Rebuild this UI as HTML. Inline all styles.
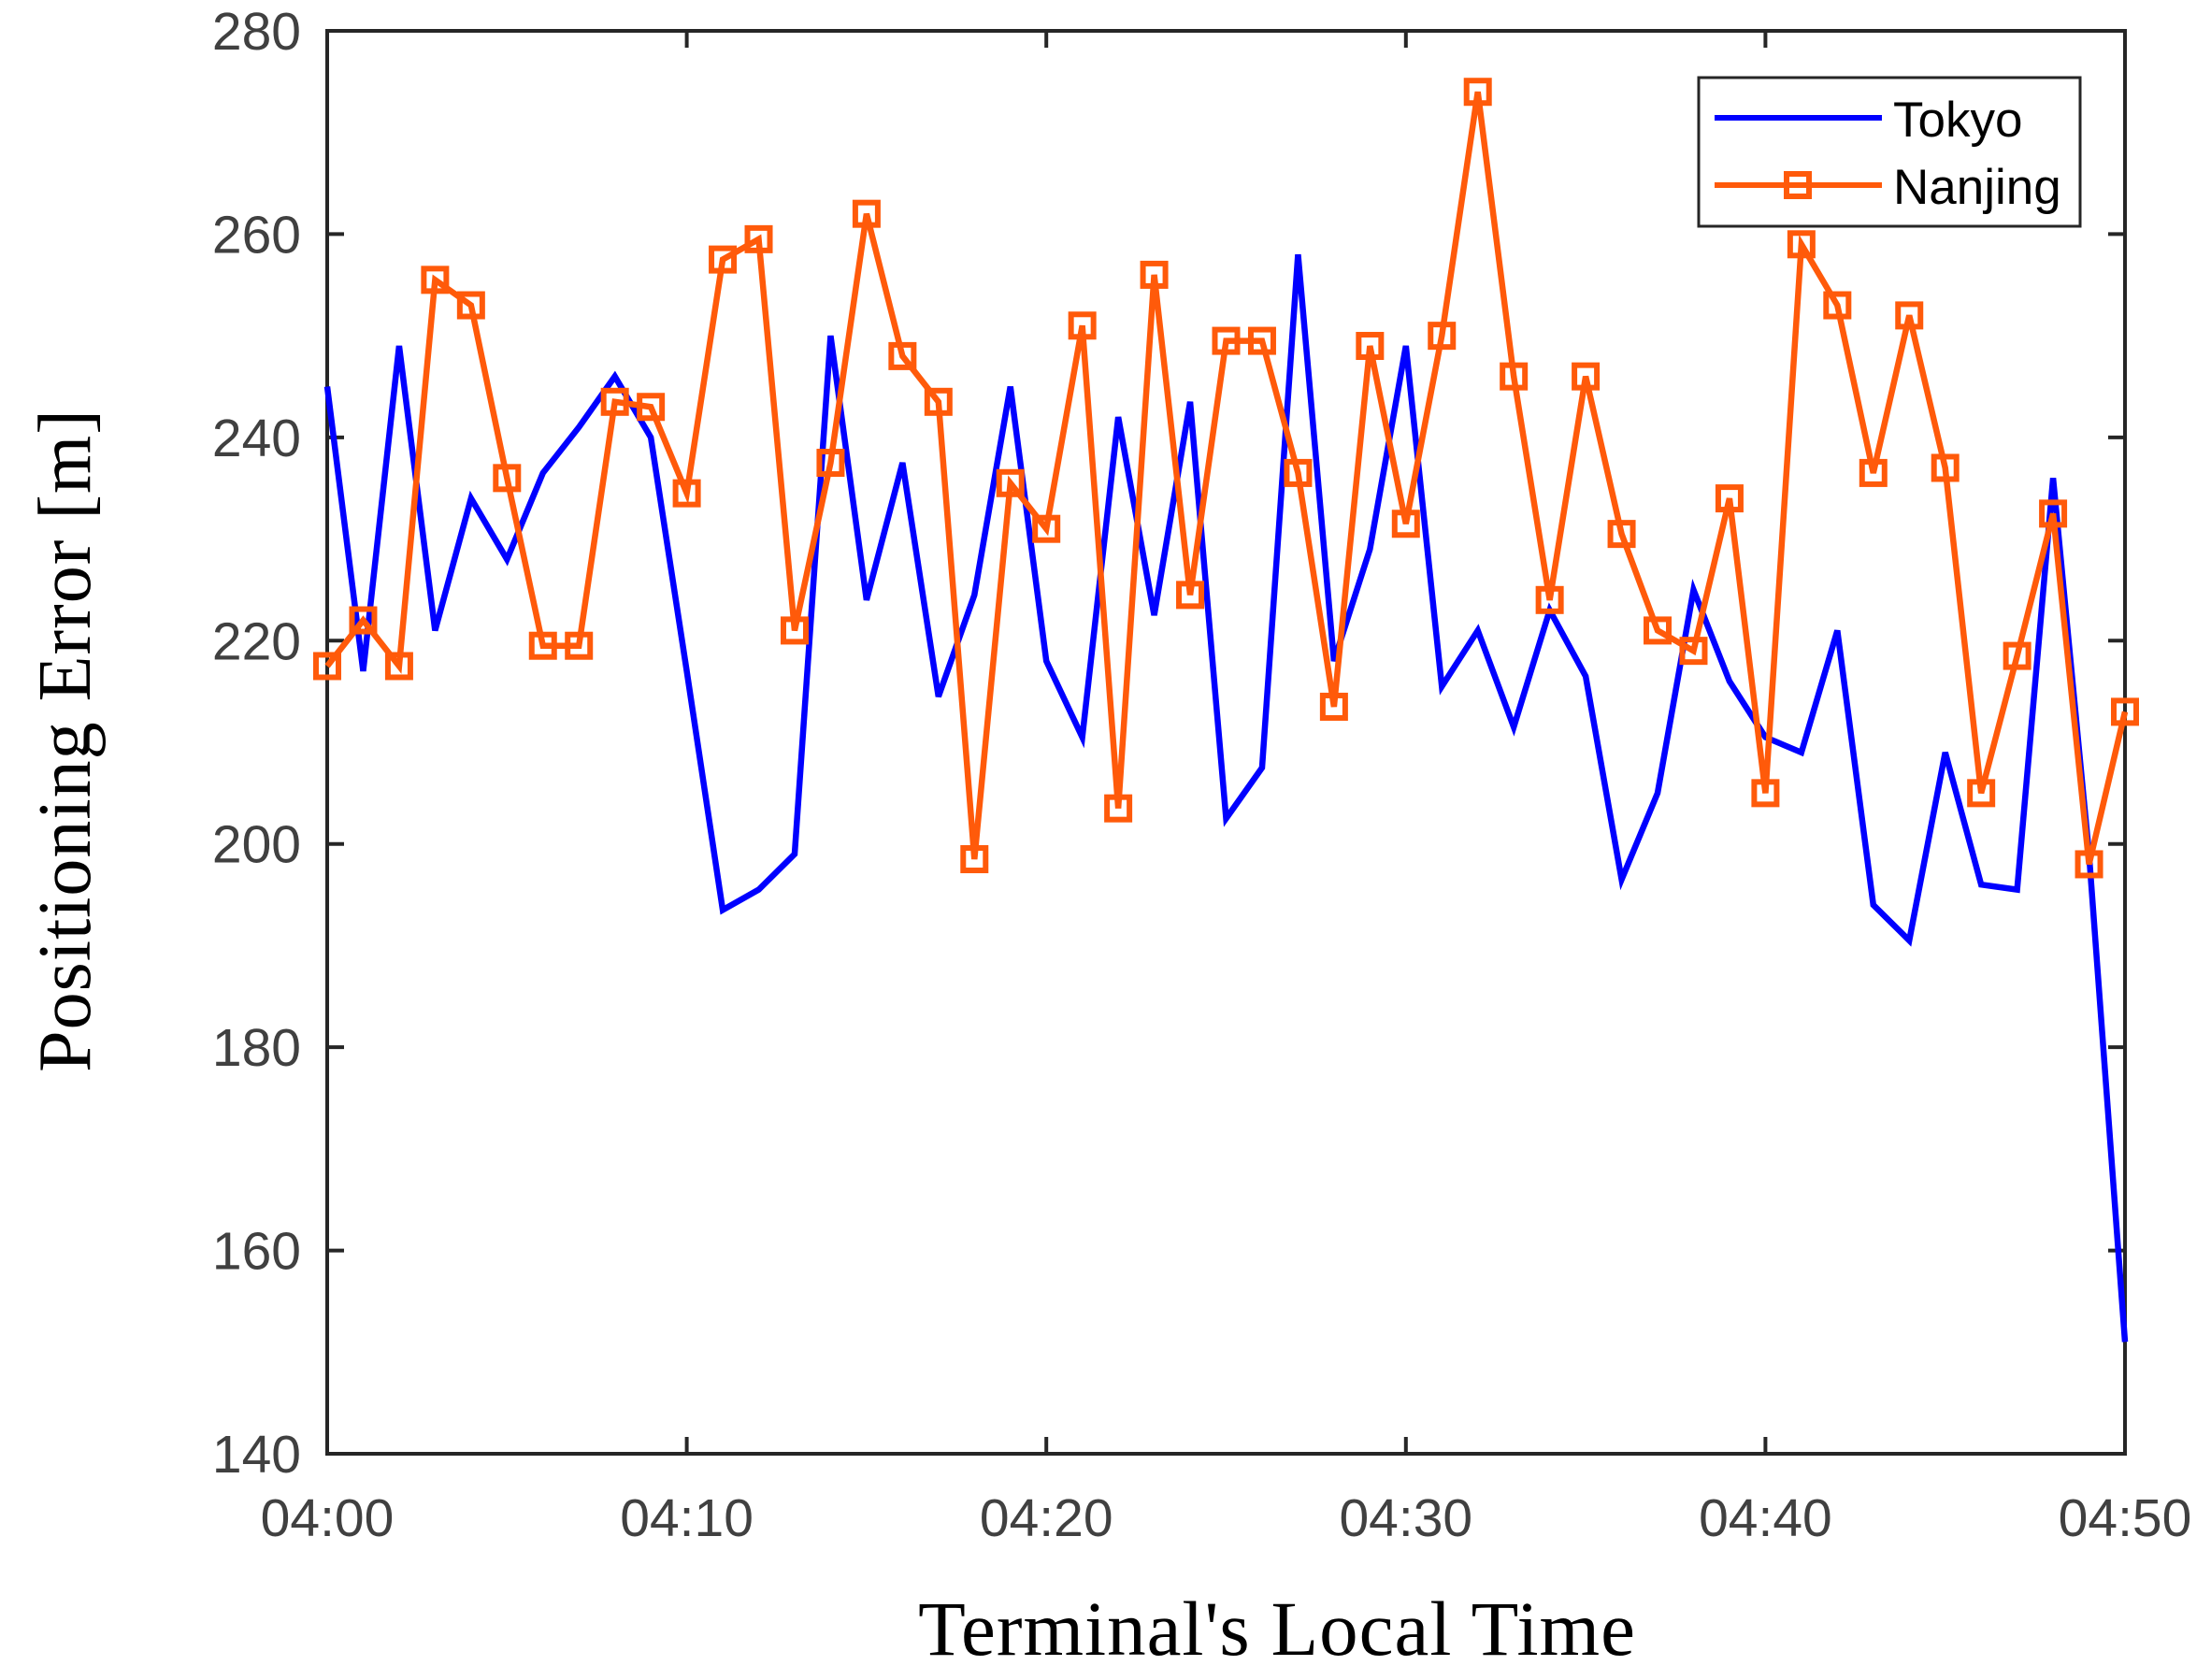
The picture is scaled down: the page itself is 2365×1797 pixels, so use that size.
<!DOCTYPE html>
<html><head><meta charset="utf-8"><style>
html,body{margin:0;padding:0;background:#fff;}
svg{display:block;}
</style></head><body>
<svg id="chart" width="2365" height="1797" viewBox="0 0 2365 1797" xmlns="http://www.w3.org/2000/svg">
<g id="grid"></g>
<g id="series"></g>
<text x="1366" y="1770" text-anchor="middle" font-family="Liberation Serif, serif" font-size="83" letter-spacing="1" fill="#000">Terminal's Local Time</text>
<text transform="translate(96,792) rotate(-90)" text-anchor="middle" font-family="Liberation Serif, serif" font-size="80" letter-spacing="1" fill="#000">Positioning Error [m]</text>
<g>
<rect x="1817" y="83" width="408" height="159" fill="#fff" stroke="#262626" stroke-width="3"/>
<line x1="1834" y1="126" x2="2013" y2="126" stroke="#0000ff" stroke-width="6"/>
<text x="2025" y="146" font-family="Liberation Sans, sans-serif" font-size="53" fill="#000">Tokyo</text>
<line x1="1834" y1="198" x2="2013" y2="198" stroke="#ff5a0a" stroke-width="6"/>
<rect x="1911" y="186" width="24" height="24" fill="none" stroke="#ff5a0a" stroke-width="6"/>
<text x="2025" y="218" font-family="Liberation Sans, sans-serif" font-size="53" fill="#000">Nanjing</text>
</g>
</svg>
<script>
const minutes = [];
for (let i = 0; i <= 50; i++) minutes.push(i);
const tokyoValues = [245,217,249,221,234,228,236.5,241,246,240,217,193.5,195.5,199,250,224,237.5,214.5,224.5,245,218,210.5,242,222.5,243.5,202.5,207.5,258,218,229,249,215.5,221,211.5,223,216.5,196.5,205,225,216,210.5,209,221,194,190.5,209,196,195.5,236,199,151];
const nanjingValues = [217.5,222,217.5,255.5,253,236,219.5,219.5,243.5,243,234.5,257.5,259.5,221,237.5,262,248,243.5,198.5,235.5,231,251,203.5,256,224.5,249.5,249.5,236.5,213.5,249,231.5,250,274,246,224,246,230.5,221,219,234,205,259,253,236.5,252,237,205,218.5,232.5,198,213];
const yTicks = [140,160,180,200,220,240,260,280];
const xTickMinutes = [0,10,20,30,40,50];
const xTickLabels = ["04:00","04:10","04:20","04:30","04:40","04:50"];

const L=350,R=2273,T=33,B=1555;
const xS = m => L + (m-0)/(50-0)*(R-L);
const yS = v => B - (v-140)/(280-140)*(B-T);
const NS="http://www.w3.org/2000/svg";
const grid=document.getElementById('grid'), ser=document.getElementById('series');
function mk(tag,attrs,parent){const e=document.createElementNS(NS,tag);for(const k in attrs)e.setAttribute(k,attrs[k]);parent.appendChild(e);return e;}

const frame=mk('rect',{x:L,y:T,width:R-L,height:B-T,fill:'none',stroke:'#262626','stroke-width':4},grid);



yTicks.forEach(v=>{
  const y=yS(v);
  const t1=mk('line',{x1:L,y1:y,x2:L+18,y2:y,stroke:'#262626','stroke-width':4},grid);
  
  
  const t2=mk('line',{x1:R,y1:y,x2:R-18,y2:y,stroke:'#262626','stroke-width':4},grid);
  
  
  const lb=mk('text',{x:L-28,y:y+20,'text-anchor':'end','font-family':'Liberation Sans, sans-serif','font-size':57,fill:'#404040'},grid);
  lb.textContent=v;
  
  
});
xTickMinutes.forEach((m,i)=>{
  const x=xS(m);
  const t1=mk('line',{x1:x,y1:B,x2:x,y2:B-18,stroke:'#262626','stroke-width':4},grid);
  
  
  const t2=mk('line',{x1:x,y1:T,x2:x,y2:T+18,stroke:'#262626','stroke-width':4},grid);
  
  
  const lb=mk('text',{x:x,y:1643,'text-anchor':'middle','font-family':'Liberation Sans, sans-serif','font-size':57,fill:'#404040'},grid);
  lb.textContent=xTickLabels[i];
  
  
});

const tp=mk('polyline',{points:minutes.map((m,i)=>xS(m)+','+yS(tokyoValues[i])).join(' '),fill:'none',stroke:'#0000ff','stroke-width':6.5,'stroke-linejoin':'miter'},ser);


const np=mk('polyline',{points:minutes.map((m,i)=>xS(m)+','+yS(nanjingValues[i])).join(' '),fill:'none',stroke:'#ff5a0a','stroke-width':6.5},ser);


minutes.forEach((m,i)=>{
  const r=mk('rect',{x:xS(m)-12,y:yS(nanjingValues[i])-12,width:24,height:24,fill:'none',stroke:'#ff5a0a','stroke-width':6},ser);
  
  
});
</script>
</body></html>
